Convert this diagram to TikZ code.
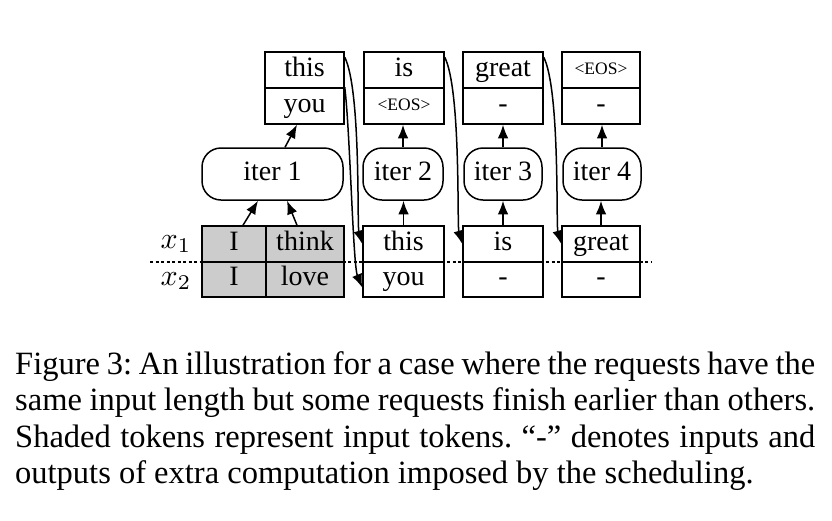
\RequirePackage{fix-cm}
\documentclass[tikz,border=0pt]{standalone}
\usepackage[no-math]{fontspec}
\setmainfont{Liberation Serif}
\usetikzlibrary{arrows.meta,calc}
\definecolor{shade}{RGB}{204,204,204}
\frenchspacing
\tikzset{
  lw/.style={line width=1.5pt},
  cell/.style={draw, lw, inner sep=0pt, minimum height=36pt, font=\fontsize{28}{30}\selectfont, text height=18.5pt, text depth=6pt},
  eoscell/.style={cell, font=\fontsize{17.5}{20}\selectfont, text height=12pt, text depth=3pt},
  inp/.style={cell, fill=shade},
  iterbox/.style={draw, lw, rounded corners=19pt, inner sep=0pt, minimum height=52pt, font=\fontsize{28}{30}\selectfont, text height=18.5pt, text depth=6pt},
  arr/.style={lw, -{Latex[length=13.5pt,width=10.5pt]}},
  xlab/.style={font=\fontsize{10}{12}\selectfont, scale=3},
}
\begin{document}
\begin{tikzpicture}[x=1pt,y=-1pt]
\useasboundingbox (0,0) rectangle (832,520);
% dashed separator
\coordinate (dl) at (150,262);
\coordinate (dr) at (652,262);
\draw[line width=1.1pt, dash pattern=on 3pt off 2.5pt] (dl) -- (dr);
% top output boxes
\node[cell, minimum width=79pt] (t1a) at (304.5,70) {this};
\node[cell, minimum width=79pt] (t1b) at (304.5,106) {you};
\node[cell, minimum width=80pt] (t2a) at (404,70) {is};
\node[eoscell, minimum width=80pt, minimum height=36pt] (t2b) at (404,106) {<EOS>};
\node[cell, minimum width=80pt] (t3a) at (503,70) {great};
\node[cell, minimum width=80pt] (t3b) at (503,106) {-};
\node[eoscell, minimum width=78pt] (t4a) at (601,70) {<EOS>};
\node[cell, minimum width=78pt] (t4b) at (601,106) {-};
% iteration boxes
\node[iterbox, minimum width=141pt] (it1) at (272.5,174) {iter 1};
\node[iterbox, minimum width=80pt] (it2) at (403,174) {iter 2};
\node[iterbox, minimum width=78pt] (it3) at (503,174) {iter 3};
\node[iterbox, minimum width=78pt] (it4) at (602,174) {iter 4};
% bottom input boxes
\node[inp, minimum width=64pt, minimum height=36pt] (g1a) at (234,244) {I};
\node[inp, minimum width=78pt, minimum height=36pt] (g2a) at (305,244) {think};
\node[inp, minimum width=64pt, minimum height=35pt] (g1b) at (234,279.5) {I};
\node[inp, minimum width=78pt, minimum height=35pt] (g2b) at (305,279.5) {love};
\node[cell, minimum width=81pt] (b2a) at (403.5,244) {this};
\node[cell, minimum width=81pt, minimum height=35pt] (b2b) at (403.5,279.5) {you};
\node[cell, minimum width=80pt] (b3a) at (503,244) {is};
\node[cell, minimum width=80pt, minimum height=35pt] (b3b) at (503,279.5) {-};
\node[cell, minimum width=78pt] (b4a) at (601,244) {great};
\node[cell, minimum width=78pt, minimum height=35pt] (b4b) at (601,279.5) {-};
% row labels
\node[xlab] (x1) at (176,244) {$x_1$};
\node[xlab] (x2) at (176,281) {$x_2$};
% arrows iteration 1
\draw[arr] ($(g1a.north)+(9,0)$) -- ($(it1.south)+(-14.5,0)$);
\draw[arr] ($(g2a.north)+(-8,0)$) -- ($(it1.south)+(14.5,0)$);
\draw[arr] ($(it1.north)+(12.5,0)$) -- ($(t1b.south)+(-7.5,0)$);
% vertical arrows
\draw[arr] (b2a.north) -- (b2a.north |- it2.south);
\draw[arr] (it2.north) -- (it2.north |- t2b.south);
\draw[arr] (b3a.north) -- (b3a.north |- it3.south);
\draw[arr] (it3.north) -- (it3.north |- t3b.south);
\draw[arr] (b4a.north) -- (b4a.north |- it4.south);
\draw[arr] (it4.north) -- (it4.north |- t4b.south);
% feedback curves
\draw[arr] ($(t1a.north east)+(0,6)$) .. controls (361,90) and (357,225) .. (b2a.west);
\draw[arr] (t1b.north east) .. controls (350,130) and (353,265) .. ($(b2b.west)+(0,8)$);
\draw[arr] ($(t2a.north east)+(0,6)$) .. controls (461,90) and (457,225) .. (b3a.west);
\draw[arr] ($(t3a.north east)+(0,6)$) .. controls (560,90) and (556,225) .. (b4a.west);
% caption
\node[anchor=north west, text width=800pt, align=justify, inner sep=0pt,
      font=\fontsize{32.5}{36.5}\selectfont] (cap) at (15,351)
{\hyphenpenalty=10000\exhyphenpenalty=10000 Figure 3: An illustration for a case where the requests have the same input length but some requests finish earlier than others. Shaded tokens represent input tokens. “-” denotes inputs and outputs of extra computation imposed by the scheduling.};
\end{tikzpicture}
\end{document}
